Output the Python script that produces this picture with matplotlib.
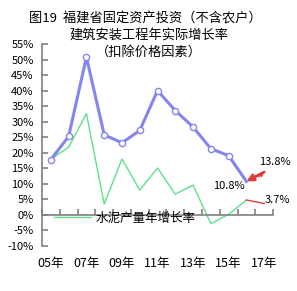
import numpy as np
import matplotlib.pyplot as plt

plt.rcParams['font.family'] = ['Noto Sans CJK SC', 'DejaVu Sans']

years = ['05', '06', '07', '08', '09', '10', '11', '12', '13', '14', '15', '16', '17']
invest = [17.8, 25.3, 50.8, 25.8, 23.2, 27.2, 40.0, 33.6, 28.3, 21.3, 19.1, 10.8, 13.8]
cement = [18.0, 21.8, 32.6, 3.5, 18.0, 8.0, 15.1, 6.7, 9.6, -2.8, 0.2, 4.8, 3.7]
shown_years = ['05', '07', '09', '11', '13', '15', '17']

blue = '#8585f0'
green = '#5ee08e'
red = '#e03c3c'

fig = plt.figure(figsize=(2.97, 2.91), dpi=100)
ax = fig.add_axes([0.1414, 0.1546, 0.778, 0.694])

x = np.arange(len(years))
# investment line up to 2016, last segment drawn as red arrow
ax.plot(x[:-1], invest[:-1], color=blue, lw=2.2, marker='o', ms=4.5,
        mfc='white', mec=blue, mew=1, markevery=list(range(len(years) - 2)), zorder=3)
ax.annotate('', xy=(x[-2], invest[-2]), xytext=(x[-1], invest[-1]),
            arrowprops=dict(arrowstyle='-|>', color=red, lw=2,
                            mutation_scale=10, shrinkA=0, shrinkB=0), zorder=4)
ax.annotate('', xy=(x[-1], invest[-1]), xytext=(x[-1] - 0.3, invest[-1] - 1.5),
            arrowprops=dict(arrowstyle='-|>', color=red, lw=1,
                            mutation_scale=6, shrinkA=0, shrinkB=0), zorder=4)

ax.plot(x[:-1], cement[:-1], color=green, lw=1, label='水泥产量年增长率', zorder=2)
ax.plot(x[-2:], cement[-2:], color=red, lw=1, zorder=2)

ax.text(x[-2] - 0.1, invest[-2] - 1.6, '%.1f%%' % invest[-2], ha='right', va='center', fontsize=8)
ax.text(x[-1] - 0.3, invest[-1] + 3.3, '%.1f%%' % invest[-1], ha='left', va='center', fontsize=8, clip_on=False)
ax.text(x[-1] + 0.05, cement[-1] + 1.2, '%.1f%%' % cement[-1], ha='left', va='center', fontsize=8, clip_on=False)

ax.set_xlim(-0.5, len(years) - 0.5)
ax.set_ylim(-10, 55)
ax.set_yticks(np.arange(-10, 56, 5))
ax.set_yticklabels(['%d%%' % v for v in np.arange(-10, 56, 5)], fontsize=8)

ax.set_xticks(np.arange(-0.5, len(years), 1))
ax.set_xticklabels([])
ax.spines['bottom'].set_position(('data', 0))
for s in ['top', 'right']:
    ax.spines[s].set_visible(False)
for s in ['left', 'bottom']:
    ax.spines[s].set_color('#808080')
    ax.spines[s].set_linewidth(1.2)
ax.tick_params(axis='both', direction='in', length=4, color='#808080', width=1.2)
ax.tick_params(axis='y', pad=6)

for yr in shown_years:
    i = years.index(yr)
    ax.text(i, -0.085, yr + '年', transform=ax.get_xaxis_transform(),
            ha='center', va='center', fontsize=9)

ax.legend(loc='center left', bbox_to_anchor=(0.03, 0.139), frameon=False,
          fontsize=9, handlelength=3.0, handletextpad=0.3, borderaxespad=0)

fig.text(0.49, 0.935, '图19  福建省固定资产投资（不含农户）', ha='center', va='center', fontsize=9.5)
fig.text(0.50, 0.878, '建筑安装工程年实际增长率', ha='center', va='center', fontsize=9.5)
fig.text(0.50, 0.82, '（扣除价格因素）', ha='center', va='center', fontsize=9.5)

fig.savefig('out.png', dpi=100)
